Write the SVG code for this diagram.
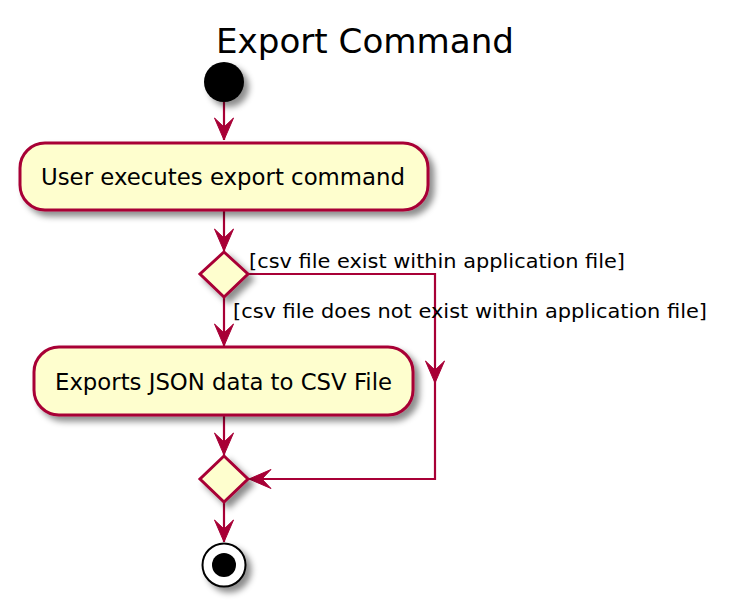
<svg xmlns="http://www.w3.org/2000/svg" width="734" height="607" viewBox="0 0 734 607">
<style>
text { font-family: "DejaVu Sans", "Liberation Sans", sans-serif; fill: #000; }
.title { font-size: 34.5px; }
.act { font-size: 22.5px; }
.lbl { font-size: 20px; }
.node { fill: #FEFECE; stroke: #A80036; stroke-width: 3; }
.conn { fill: none; stroke: #A80036; stroke-width: 2.2; }
</style>
<defs>
<filter id="sh" x="-20%" y="-20%" width="150%" height="160%">
<feGaussianBlur in="SourceAlpha" stdDeviation="3"/>
<feOffset dx="5" dy="5" result="b"/>
<feColorMatrix in="b" type="matrix" values="0 0 0 0 0  0 0 0 0 0  0 0 0 0 0  0 0 0 0.45 0" result="c"/>
<feMerge><feMergeNode in="c"/><feMergeNode in="SourceGraphic"/></feMerge>
</filter>
<marker id="ah" viewBox="-24 -11 26 22" refX="0" refY="0" markerWidth="26" markerHeight="22" markerUnits="userSpaceOnUse" orient="auto" overflow="visible">
<path d="M0,0 L-22,-9.5 L-13,0 L-22,9.5 Z" fill="#A80036" stroke="#A80036" stroke-width="1" stroke-linejoin="miter"/>
</marker>
</defs>
<rect width="734" height="607" fill="#fff"/>
<text class="title" x="365" y="53" text-anchor="middle" textLength="298" lengthAdjust="spacingAndGlyphs">Export Command</text>

<g id="connectors">
<path class="conn" d="M224,102 V140" marker-end="url(#ah)"/>
<path class="conn" d="M224,210 V251" marker-end="url(#ah)"/>
<path class="conn" d="M224,297 V346" marker-end="url(#ah)"/>
<path class="conn" d="M248,274 H435 V383" marker-end="url(#ah)"/>
<path class="conn" d="M435,383 V479 H249" marker-end="url(#ah)"/>
<path class="conn" d="M224,415 V455" marker-end="url(#ah)"/>
<path class="conn" d="M224,502 V542" marker-end="url(#ah)"/>
<text class="lbl" x="249" y="268" textLength="376" lengthAdjust="spacingAndGlyphs">[csv file exist within application file]</text>
<text class="lbl" x="233" y="318" textLength="474" lengthAdjust="spacingAndGlyphs">[csv file does not exist within application file]</text>
</g>

<g id="start">
<circle cx="224" cy="82" r="20" fill="#000" filter="url(#sh)"/>
</g>
<g id="userExecutes">
<rect class="node" x="20" y="143" width="408" height="67" rx="25" ry="25" filter="url(#sh)"/>
<text class="act" x="41" y="185" textLength="364" lengthAdjust="spacingAndGlyphs">User executes export command</text>
</g>
<g id="decision1">
<polygon class="node" points="224,252 248,274 224,297 200,274" filter="url(#sh)"/>
</g>
<g id="exportsJson">
<rect class="node" x="34" y="347" width="379" height="68" rx="25" ry="25" filter="url(#sh)"/>
<text class="act" x="55" y="390" textLength="337" lengthAdjust="spacingAndGlyphs">Exports JSON data to CSV File</text>
</g>
<g id="merge">
<polygon class="node" points="224,456 248,479 224,502 200,479" filter="url(#sh)"/>
</g>
<g id="end">
<circle cx="224" cy="565" r="21.5" fill="#fff" stroke="#000" stroke-width="2" filter="url(#sh)"/>
<circle cx="224" cy="565" r="12" fill="#000"/>
</g>
</svg>
